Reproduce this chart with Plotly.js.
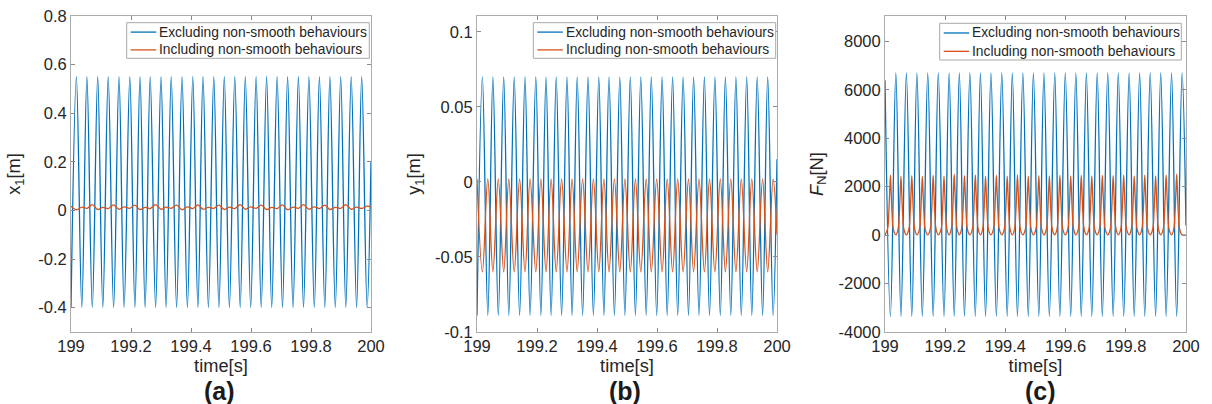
<!DOCTYPE html>
<html>
<head>
<meta charset="utf-8">
<script src="https://cdn.plot.ly/plotly-3.0.1.min.js"></script>
<style>
  html, body { margin: 0; padding: 0; background: #fff; }
  #chart { width: 1212px; height: 404px; }
</style>
</head>
<body>
<div id="chart"></div>
<script>
// ---- time axis ----
const timeStart = 199;
const timeEnd = 200;
const timeTicks = [199, 199.2, 199.4, 199.6, 199.8, 200];
const timeTickText = ['199', '199.2', '199.4', '199.6', '199.8', '200'];

// instants of the x1 maxima and minima of the smooth model (s)
const peakTimes = [199.018, 199.053, 199.089, 199.124, 199.160, 199.196, 199.230, 199.264,
  199.300, 199.334, 199.370, 199.406, 199.440, 199.476, 199.511, 199.546, 199.581, 199.617,
  199.652, 199.687, 199.722, 199.758, 199.793, 199.828, 199.863, 199.899, 199.934, 199.969];
const troughTimes = [199.000, 199.036, 199.071, 199.106, 199.142, 199.177, 199.213, 199.247,
  199.282, 199.317, 199.352, 199.388, 199.423, 199.458, 199.493, 199.528, 199.564, 199.599,
  199.634, 199.669, 199.705, 199.740, 199.775, 199.811, 199.846, 199.881, 199.916, 199.952, 199.987];

// (a) x1 [m]
const x1ExcAtPeak = 0.55;
const x1ExcAtTrough = -0.40;
const x1ExcStart = -0.40;
const x1ExcEnd = 0.20;
const x1IncAtTrough = [0.018, 0.014, 0.024, 0.013, 0.023, 0.015, 0.022, 0.013, 0.024, 0.014,
  0.022, 0.015, 0.023, 0.013, 0.022, 0.014, 0.024, 0.015, 0.022, 0.013, 0.023, 0.014, 0.024,
  0.015, 0.022, 0.013, 0.024, 0.014, 0.018];
const x1IncAtPeak = [0.003, 0.009, 0.004, 0.008, 0.005, 0.009, 0.004, 0.008, 0.005, 0.009,
  0.003, 0.008, 0.005, 0.009, 0.004, 0.008, 0.005, 0.009, 0.004, 0.008, 0.003, 0.009, 0.005,
  0.008, 0.004, 0.009, 0.005, 0.008];
const x1IncEnd = 0.015;

// (b) y1 [m]
const y1ExcAtPeak = 0.070;
const y1ExcAtTrough = -0.089;
const y1ExcStart = -0.089;
const y1ExcEnd = 0.015;
const y1IncAtTrough = 0.002;
const y1IncAtPeak = -0.060;
const y1IncStart = 0.002;
const y1IncEnd = -0.035;

// (c) F_N [N]
const fnExcAtTrough = 6700;
const fnExcAtPeak = -3350;
const fnExcStart = 6400;
const fnExcEnd = 400;
const fnIncPulse = [2480, 2440, 2460, 2430, 2470, 2440, 2520, 2460, 2490, 2430, 2470, 2440,
  2490, 2440, 2460, 2450, 2470, 2450, 2470, 2450, 2470, 2460, 2480, 2450, 2480, 2450, 2480, 2520];
const fnIncBase = 10;

// tick sets
const x1Ticks = [-0.4, -0.2, 0, 0.2, 0.4, 0.6, 0.8];
const x1TickText = ['-0.4', '-0.2', '0', '0.2', '0.4', '0.6', '0.8'];
const y1Ticks = [-0.1, -0.05, 0, 0.05, 0.1];
const y1TickText = ['-0.1', '-0.05', '0', '0.05', '0.1'];
const fnTicks = [-4000, -2000, 0, 2000, 4000, 6000, 8000];
const fnTickText = ['-4000', '-2000', '0', '2000', '4000', '6000', '8000'];

const seriesNames = ['Excluding non-smooth behaviours', 'Including non-smooth behaviours'];
const panelLabels = ['(a)', '(b)', '(c)'];

// ---- build vertex lists (alternating extrema, drawn as splines) ----
function alternating(atTrough, atPeak, startVal, endVal) {
  const t = [], v = [];
  for (let k = 0; k < troughTimes.length; k++) {
    t.push(troughTimes[k]);
    v.push(typeof atTrough === 'number' ? atTrough : atTrough[k]);
    if (k < peakTimes.length) {
      t.push(peakTimes[k]);
      v.push(typeof atPeak === 'number' ? atPeak : atPeak[k]);
    }
  }
  if (startVal !== undefined) v[0] = startVal;
  t.push(timeEnd); v.push(endVal);
  return { t, v };
}

// contact-force pulse outline around each x1 maximum (offset in s, fraction of the pulse height)
const PULSE_OFFSETS = [-0.0095, -0.0055, -0.0028, 0, 0.0028, 0.0055, 0.0095];
const PULSE_FRACS = [0.1, 0.36, 0.68, 1, 0.68, 0.36, 0.1];
function pulses(peaks, base) {
  const t = [], v = [];
  troughTimes.forEach((tt, k) => {
    t.push(tt); v.push(base);
    if (k < peakTimes.length) {
      PULSE_OFFSETS.forEach((o, j) => {
        t.push(peakTimes[k] + o);
        v.push(base + (peaks[k] - base) * PULSE_FRACS[j]);
      });
    }
  });
  t.push(timeEnd); v.push(base);
  return { t, v };
}

const x1Exc = alternating(x1ExcAtTrough, x1ExcAtPeak, x1ExcStart, x1ExcEnd);
const x1Inc = alternating(x1IncAtTrough, x1IncAtPeak, undefined, x1IncEnd);
const y1Exc = alternating(y1ExcAtTrough, y1ExcAtPeak, y1ExcStart, y1ExcEnd);
const y1Inc = alternating(y1IncAtTrough, y1IncAtPeak, y1IncStart, y1IncEnd);
const fnExc = alternating(fnExcAtTrough, fnExcAtPeak, fnExcStart, fnExcEnd);
const fnInc = pulses(fnIncPulse, fnIncBase);

const BLUE = '#0072BD', RED = '#D95319';
const FONT = 'Liberation Sans, Arial, Helvetica, sans-serif';
const TEXT = '#262626';
const W = 1212, H = 404;
const px = x => x / W, py = y => 1 - y / H;
const LINE_W = 1.3;

function trace(s, color, name, axisIdx) {
  const sfx = axisIdx === 1 ? '' : String(axisIdx);
  return {
    x: s.t, y: s.v, type: 'scatter', mode: 'lines', name, showlegend: false,
    line: { color, width: LINE_W, shape: 'spline', smoothing: 1 },
    xaxis: 'x' + sfx, yaxis: 'y' + sfx, hoverinfo: 'skip'
  };
}

const data = [
  trace(x1Exc, BLUE, seriesNames[0], 1),
  trace(x1Inc, RED, seriesNames[1], 1),
  trace(y1Exc, BLUE, seriesNames[0], 2),
  trace(y1Inc, RED, seriesNames[1], 2),
  trace(fnExc, BLUE, seriesNames[0], 3),
  trace(fnInc, RED, seriesNames[1], 3)
];

const axisStyle = {
  showline: true, linecolor: '#ababab', linewidth: 1, mirror: 'ticks',
  ticks: 'inside', ticklen: 4, tickcolor: '#8a8a8a', tickwidth: 1,
  showgrid: false, zeroline: false, automargin: false, fixedrange: true,
  tickfont: { family: FONT, size: 16.5, color: TEXT },
  tickmode: 'array'
};
const yDomain = [py(332), py(16)];

function xAxis(l, r, anchor) {
  return Object.assign({}, axisStyle, {
    domain: [px(l), px(r)], anchor, range: [timeStart, timeEnd],
    tickvals: timeTicks, ticktext: timeTickText, ticklabelstandoff: -1,
    title: { text: 'time[s]', font: { family: FONT, size: 18.3, color: TEXT }, standoff: 2 }
  });
}
function yAxis(range, vals, text, title, anchor, standoff) {
  return Object.assign({}, axisStyle, {
    domain: yDomain, anchor, range, tickvals: vals, ticktext: text,
    title: { text: title, font: { family: FONT, size: 18.3, color: TEXT }, standoff }
  });
}

// legend box per panel: left/top/right/bottom edges in page pixels
const legendBoxes = [[126.7, 22.7, 369.3, 58.3], [533.3, 22.7, 775.7, 58.3], [939.7, 23.3, 1181.3, 60]];
const legendColors = [BLUE, RED];
const shapes = [], annotations = [];
legendBoxes.forEach(([l, t, r, b]) => {
  shapes.push({
    type: 'rect', xref: 'paper', yref: 'paper', x0: px(l), x1: px(r), y0: py(b), y1: py(t),
    fillcolor: '#ffffff', line: { color: '#a8a8a8', width: 1 }, layer: 'above'
  });
  const rowH = (b - t) / 2;
  seriesNames.forEach((name, i) => {
    const yc = t + rowH * (i + 0.5) + 0.5;
    shapes.push({
      type: 'line', xref: 'paper', yref: 'paper', x0: px(l + 4), x1: px(l + 29.5), y0: py(yc), y1: py(yc),
      line: { color: legendColors[i], width: LINE_W }, layer: 'above'
    });
    annotations.push({
      xref: 'paper', yref: 'paper', x: px(l + 30.5), y: py(yc), xanchor: 'left', yanchor: 'middle',
      text: name, showarrow: false, font: { family: FONT, size: 13.8, color: TEXT }
    });
  });
});
[[219, panelLabels[0]], [625, panelLabels[1]], [1040, panelLabels[2]]].forEach(([x, text]) => {
  annotations.push({
    xref: 'paper', yref: 'paper', x: px(x), y: py(391), xanchor: 'center', yanchor: 'middle',
    text: '<b>' + text + '</b>', showarrow: false,
    font: { family: FONT, size: 25, color: '#1a1a1a' }
  });
});

const layout = {
  width: W, height: H, autosize: false,
  margin: { l: 0, r: 0, t: 0, b: 0 },
  paper_bgcolor: '#ffffff', plot_bgcolor: '#ffffff',
  showlegend: false,
  xaxis: xAxis(71, 371, 'y'),
  yaxis: yAxis([-0.5, 0.8], x1Ticks, x1TickText, 'x<sub>1</sub>[m]', 'x', 12),
  xaxis2: xAxis(477, 777, 'y2'),
  yaxis2: yAxis([-0.1, 0.1105], y1Ticks, y1TickText, 'y<sub>1</sub>[m]', 'x2', 9),
  xaxis3: xAxis(885, 1186, 'y3'),
  yaxis3: yAxis([-4000, 9050], fnTicks, fnTickText, '<i>F</i><sub>N</sub>[N]', 'x3', 10),
  shapes, annotations
};

Plotly.newPlot('chart', data, layout, { staticPlot: true, displayModeBar: false });
</script>
</body>
</html>
